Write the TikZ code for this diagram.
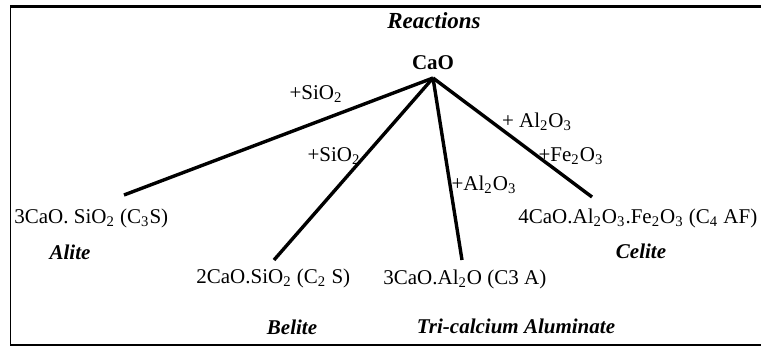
\documentclass[tikz,border=0pt]{standalone}
\usepackage{fontspec}
\setmainfont{Liberation Serif}
\usepackage{tikz}
\newcommand{\sbs}[1]{\textsubscript{#1}}
\tikzset{
	frameline/.style={black, line width=#1},
	branch/.style={black, line width=1.7pt},
	formula/.style={inner sep=0pt, anchor=west, font=\fontsize{10.5}{12}\selectfont},
	adds/.style={inner sep=0pt, font=\fontsize{10.5}{12}\selectfont},
	phase/.style={inner sep=0pt, font=\fontsize{10.5}{12}\selectfont\bfseries\itshape}
}

\begin{document}
\begin{tikzpicture}[x=0.5pt,y=-0.5pt]
				\useasboundingbox (0,0) rectangle (761,347);
				\draw[frameline=1.5pt](10,7)--(761,7);
				\draw[frameline=0.8pt](10.5,6)--(10.5,346);
				\draw[frameline=1pt](10,345.5)--(761,345.5);
				\node[phase, font=\fontsize{11.5}{13}\selectfont\bfseries\itshape] (title) at (434,21) {Reactions};
				\node[adds, font=\fontsize{10.5}{12}\selectfont\bfseries] (cao) at (433,63) {CaO};
				\coordinate (apex) at (433,78);
				\node[formula] (cthreeS) at (14,218) {3CaO. SiO\sbs{2} (C\sbs{3}S)};
				\node[formula] (ctwoS) at (196,278) {2CaO.SiO\sbs{2} (C\sbs{2} S)};
				\node[formula] (cthreeA) at (383,279) {3CaO.Al\sbs{2}O (C3 A)};
				\node[formula] (cfourAF) at (518,218) {4CaO.Al\sbs{2}O\sbs{3}.Fe\sbs{2}O\sbs{3} (C\sbs{4} AF)};
				\node[phase] (alite) at (70,252) {Alite};
				\node[phase] (belite) at (292,327) {Belite};
				\node[phase] (aluminate) at (516,326) {Tri-calcium Aluminate};
				\node[phase] (celite) at (641,251) {Celite};
				\coordinate (endS) at (124,195);
				\coordinate (endB) at (274,260);
				\coordinate (endA) at (462,260);
				\coordinate (endF) at (592,197);
				\draw[branch](apex)--(endS);
				\draw[branch](apex)--(endB);
				\draw[branch](apex)--(endA);
				\draw[branch](apex)--(endF);
				\node[adds] (addone) at (316,94) {+SiO\sbs{2}};
				\node[adds] (addtwo) at (334,156) {+SiO\sbs{2}};
				\node[adds] (addthree) at (484,185) {+Al\sbs{2}O\sbs{3}};
				\node[adds] (addfour) at (537,122) {+ Al\sbs{2}O\sbs{3}};
				\node[adds] (addfive) at (571,156) {+Fe\sbs{2}O\sbs{3}};
			\end{tikzpicture}
\end{document}
